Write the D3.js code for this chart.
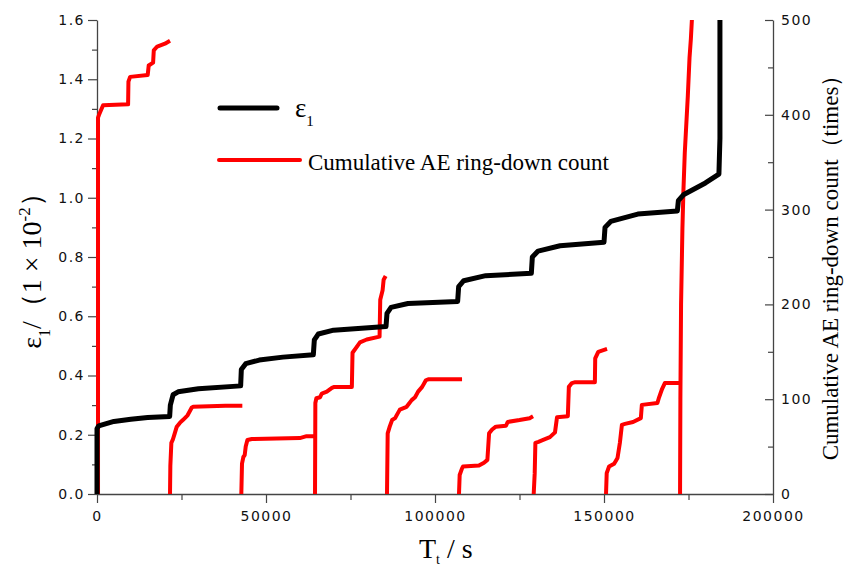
<!DOCTYPE html>
<html>
<head>
<meta charset="utf-8">
<script src="https://cdn.jsdelivr.net/npm/d3@7"></script>
<style>
  body { margin: 0; background: #fff; }
  .tick-label { font-family: "DejaVu Sans", sans-serif; font-size: 14px; letter-spacing: 1.5px; fill: #111; }
  .serif { font-family: "Liberation Serif", "Times New Roman", serif; fill: #000; }
</style>
</head>
<body>
<svg id="chart" width="845" height="568"></svg>
<script>
/*------------------- Data --------------------*/
// x ticks (s), left ticks (1e-2), right ticks (times)
const xTicks = [0, 50000, 100000, 150000, 200000];
const leftTicks = [0, 0.2, 0.4, 0.6, 0.8, 1.0, 1.2, 1.4, 1.6];
const rightTicks = [0, 100, 200, 300, 400, 500];

// strain epsilon_1 vs time [time, strain]
const strainCurve = [
    [0, 0], [0, 0.22], [500, 0.23], [5000, 0.245], [10000, 0.252], [15000, 0.258], [21500, 0.262],
    [21700, 0.30], [22500, 0.335], [24000, 0.345], [30000, 0.355], [42500, 0.365],
    [42700, 0.42], [44000, 0.44], [48000, 0.452], [55000, 0.462], [64000, 0.47],
    [64300, 0.52], [65500, 0.54], [70000, 0.553], [85500, 0.565],
    [85800, 0.61], [87000, 0.63], [92000, 0.643], [106700, 0.65],
    [107000, 0.70], [108500, 0.72], [115000, 0.737], [128500, 0.745],
    [128800, 0.80], [130500, 0.82], [137000, 0.838], [150000, 0.85],
    [150300, 0.90], [152000, 0.92], [160000, 0.945], [171700, 0.955],
    [172000, 0.99], [173500, 1.01], [180000, 1.05], [184000, 1.08],
    [184300, 1.20], [184300, 1.6]
];

// cumulative AE ring-down count, one array per loading stage [time, count]
const aeStage1 = [[300, 0], [300, 397], [600, 400], [1200, 405], [1800, 410], [9200, 411], [9300, 435], [9800, 440],
    [15000, 442], [15300, 452], [16600, 455], [16800, 468], [17800, 472], [20100, 475], [21600, 478]];
const aeStage2 = [[21600, 0], [21700, 30], [22000, 54], [22400, 57], [23000, 64], [23600, 71], [24500, 75], [25400, 78],
    [26800, 83], [28000, 91], [28400, 92], [38000, 93], [43000, 93]];
const aeStage3 = [[42700, 0], [42900, 32], [43300, 39], [43700, 41], [44000, 50], [44500, 57], [45800, 58],
    [60000, 59], [62000, 61], [64500, 61]];
const aeStage4 = [[64500, 0], [64600, 96], [64900, 101], [66000, 102], [66500, 106], [68000, 108], [69500, 112], [70200, 113],
    [75400, 113], [75600, 149], [76800, 155], [77800, 160], [79800, 163], [83600, 166], [83800, 205], [84500, 215],
    [84800, 226], [85400, 230]];
const aeStage5 = [[85800, 0], [86000, 64], [86600, 71], [87300, 78], [88200, 80], [88800, 84], [89600, 89], [91600, 92],
    [93100, 99], [94100, 102], [95000, 108], [96200, 113], [97300, 120], [98000, 121], [108000, 121]];
const aeStage6 = [[107100, 0], [107300, 20], [108000, 27], [108300, 29], [113000, 30], [114500, 33], [115500, 36],
    [116000, 64], [116900, 68], [118000, 71], [121000, 72], [121500, 76], [125000, 78], [128000, 80], [129000, 82]];
const aeStage7 = [[129200, 0], [129500, 22], [129700, 54], [130600, 55], [132000, 57], [134000, 60], [135500, 65],
    [136100, 81], [139300, 82], [139600, 113], [140500, 117], [141500, 118], [147300, 118], [147400, 143],
    [148300, 150], [150900, 153]];
const aeStage8 = [[150600, 0], [150800, 22], [151500, 29], [153000, 32], [154000, 38], [154700, 54], [155300, 73],
    [156200, 74], [158600, 76], [160900, 80], [161200, 94], [165800, 96], [166300, 102], [167200, 111],
    [168000, 117], [172500, 117]];
const aeStage9 = [[172500, 0], [172600, 100], [172800, 200], [173200, 280], [173500, 320], [173900, 360],
    [174200, 380], [174800, 420], [175300, 460], [175700, 480], [176000, 500]];
const aeStages = [aeStage1, aeStage2, aeStage3, aeStage4, aeStage5, aeStage6, aeStage7, aeStage8, aeStage9];

/*------------------- Layout --------------------*/
const plot = { left: 97, right: 773, top: 20, bottom: 494 };
const svg = d3.select("#chart");

const x = d3.scaleLinear().domain([0, 200000]).range([plot.left, plot.right]);
const yL = d3.scaleLinear().domain([0, 1.6]).range([plot.bottom, plot.top]);
const yR = d3.scaleLinear().domain([0, 500]).range([plot.bottom, plot.top]);

/*------------------- Axes --------------------*/
const axisColor = "#444";

function styleAxis(g) {
    g.select(".domain").attr("stroke", axisColor).attr("stroke-width", 1.3);
    g.selectAll(".tick line").attr("stroke", axisColor).attr("stroke-width", 1.2);
    g.selectAll(".tick text").attr("class", "tick-label").attr("fill", "#111");
}

// minor ticks first
svg.append("g")
    .attr("transform", `translate(0,${plot.bottom})`)
    .call(d3.axisBottom(x).tickValues(d3.range(25000, 200000, 50000)).tickSize(6).tickFormat(""))
    .call(g => g.select(".domain").remove())
    .call(g => g.selectAll("line").attr("stroke", axisColor).attr("stroke-width", 1.2));
svg.append("g")
    .attr("transform", `translate(${plot.left},0)`)
    .call(d3.axisLeft(yL).tickValues(d3.range(0.1, 1.6, 0.2)).tickSize(5).tickFormat(""))
    .call(g => g.select(".domain").remove())
    .call(g => g.selectAll("line").attr("stroke", axisColor).attr("stroke-width", 1.2));
svg.append("g")
    .attr("transform", `translate(${plot.right},0)`)
    .call(d3.axisLeft(yR).tickValues(d3.range(50, 500, 100)).tickSize(5).tickFormat(""))
    .call(g => g.select(".domain").remove())
    .call(g => g.selectAll("line").attr("stroke", axisColor).attr("stroke-width", 1.2));

// major ticks
svg.append("g")
    .attr("transform", `translate(0,${plot.bottom})`)
    .call(d3.axisBottom(x).tickValues(xTicks).tickSize(9).tickSizeOuter(0).tickPadding(8).tickFormat(d3.format("d")))
    .call(styleAxis);

svg.append("g")
    .attr("transform", `translate(${plot.left},0)`)
    .call(d3.axisLeft(yL).tickValues(leftTicks).tickSize(9).tickSizeOuter(0).tickPadding(3).tickFormat(d3.format(".1f")))
    .call(styleAxis);

const rightAxis = svg.append("g")
    .attr("transform", `translate(${plot.right},0)`)
    .call(d3.axisRight(yR).tickValues(rightTicks).tickSize(0).tickSizeOuter(0).tickPadding(8).tickFormat(d3.format("d")))
    .call(styleAxis);
// right axis ticks point inward
rightAxis.selectAll(".tick line").attr("x2", -8);

/*------------------- Lines --------------------*/
const strainLine = d3.line().x(d => x(d[0])).y(d => yL(d[1]));
const aeLine = d3.line().x(d => x(d[0])).y(d => yR(d[1]));

svg.append("g").selectAll("path")
    .data(aeStages)
    .join("path")
    .attr("d", aeLine)
    .attr("fill", "none")
    .attr("stroke", "#ff0000")
    .attr("stroke-width", 4)
    .attr("stroke-linejoin", "round");

svg.append("path")
    .datum(strainCurve)
    .attr("d", strainLine)
    .attr("fill", "none")
    .attr("stroke", "#000")
    .attr("stroke-width", 5)
    .attr("stroke-linejoin", "round");

/*------------------- Legend --------------------*/
const legend = svg.append("g");
legend.append("line")
    .attr("x1", 220).attr("x2", 277).attr("y1", 108).attr("y2", 108)
    .attr("stroke", "#000").attr("stroke-width", 5).attr("stroke-linecap", "round");
legend.append("text").attr("class", "serif")
    .attr("x", 295).attr("y", 117).attr("font-size", 27)
    .text("ε")
    .append("tspan").attr("font-size", 15).attr("dy", 9).text("1");
legend.append("line")
    .attr("x1", 219).attr("x2", 300).attr("y1", 160).attr("y2", 160)
    .attr("stroke", "#ff0000").attr("stroke-width", 4).attr("stroke-linecap", "round");
legend.append("text").attr("class", "serif")
    .attr("x", 308).attr("y", 170).attr("font-size", 23)
    .text("Cumulative AE ring-down count");

/*------------------- Axis titles --------------------*/
const xTitle = svg.append("text").attr("class", "serif")
    .attr("x", 419).attr("y", 558).attr("font-size", 28);
xTitle.append("tspan").text("T");
xTitle.append("tspan").attr("font-size", 14).attr("dy", 6).text("t");
xTitle.append("tspan").attr("dy", -6).text(" / s");

const yTitle = svg.append("text").attr("class", "serif")
    .attr("transform", "translate(41,264) rotate(-90)")
    .attr("text-anchor", "middle").attr("font-size", 28);
yTitle.append("tspan").text("ε");
yTitle.append("tspan").attr("font-size", 16).attr("dy", 9).text("1");
yTitle.append("tspan").attr("dy", -9).text("/（1 × 10");
yTitle.append("tspan").attr("font-size", 17).attr("dy", -11).text("-2");
yTitle.append("tspan").attr("dy", 11).text("）");

svg.append("text").attr("class", "serif")
    .attr("transform", "translate(838,262) rotate(-90)")
    .attr("text-anchor", "middle").attr("font-size", 23)
    .text("Cumulative AE ring-down count（times）");
</script>
</body>
</html>
